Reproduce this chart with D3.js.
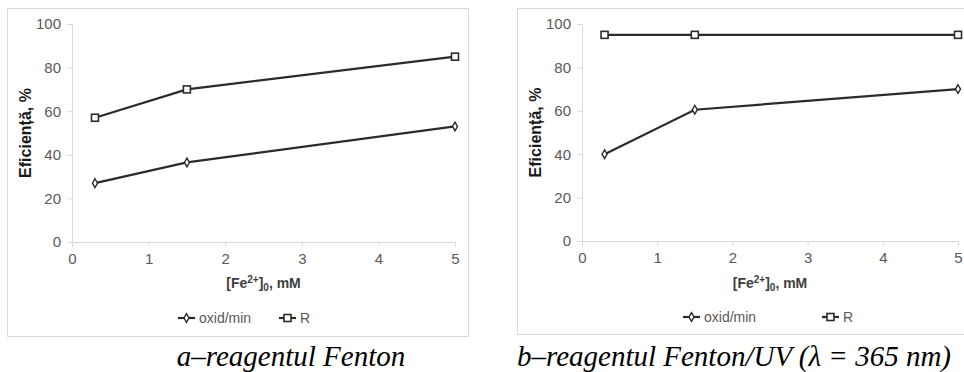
<!DOCTYPE html>
<html>
<head>
<meta charset="utf-8">
<script src="https://cdn.jsdelivr.net/npm/d3@7"></script>
<style>
  body { margin: 0; background: #fff; }
  svg { display: block; }
</style>
</head>
<body>
<script>
// data
var feConc = [0.3, 1.5, 5];
var oxidA = [27, 36.5, 53];
var rA = [57, 70, 85];
var oxidB = [40, 60.5, 70];
var rB = [95, 95, 95];
var xTicks = [0, 1, 2, 3, 4, 5];
var yTicks = [0, 20, 40, 60, 80, 100];
var captions = ["a\u2013reagentul Fenton", "b\u2013reagentul Fenton/UV (\u03bb = 365 nm)"];

var W = 964, H = 372;
var svg = d3.select("body").append("svg")
    .attr("width", W)
    .attr("height", H);

var lineCol = "#2b2b2b";
var textCol = "#595959";
var axisCol = "#d9d9d9";
var sans = "'Liberation Sans', Arial, sans-serif";
var serif = "'Liberation Serif', 'Times New Roman', serif";

// one panel
function drawPanel(box, plot, oxid, r, caption) {
    var g = svg.append("g");

    g.append("rect")
        .attr("x", box.x + 0.5).attr("y", box.y + 0.5)
        .attr("width", box.w).attr("height", box.h)
        .style("fill", "white")
        .style("stroke", axisCol);

    var x = d3.scaleLinear().domain([0, 5]).range([plot.x0, plot.x1]);
    var y = d3.scaleLinear().domain([0, 100]).range([plot.y0, plot.y1]);

    var xAxis = d3.axisBottom(x).tickValues(xTicks).tickSize(5).tickPadding(6).tickFormat(d3.format("d"));
    var yAxis = d3.axisLeft(y).tickValues(yTicks).tickSize(5).tickPadding(6).tickFormat(d3.format("d"));

    var gx = g.append("g")
        .attr("transform", "translate(0," + plot.y0 + ")")
        .call(xAxis);
    var gy = g.append("g")
        .attr("transform", "translate(" + plot.x0 + ",0)")
        .call(yAxis);

    [gx, gy].forEach(function (a) {
        a.select(".domain").style("stroke", axisCol);
        a.selectAll(".tick line").style("stroke", axisCol);
        a.selectAll("text")
            .style("fill", textCol)
            .style("font-family", sans)
            .style("font-size", "15px");
    });

    // axis titles
    g.append("text")
        .attr("transform", "translate(" + plot.titleX + "," + ((plot.y0 + plot.y1) / 2) + ") rotate(-90)")
        .attr("text-anchor", "middle")
        .attr("dy", "0.35em")
        .style("font-family", sans)
        .style("font-weight", "bold")
        .style("font-size", "16px")
        .style("fill", "#1a1a1a")
        .text("Eficiență, %");

    var xt = g.append("text")
        .attr("x", (plot.x0 + plot.x1) / 2)
        .attr("y", 288)
        .attr("text-anchor", "middle")
        .style("font-family", sans)
        .style("font-weight", "bold")
        .style("font-size", "14px")
        .style("fill", "#404040");
    xt.append("tspan").text("[Fe");
    xt.append("tspan").attr("dy", "-5").style("font-size", "10px").text("2+");
    xt.append("tspan").attr("dy", "5").text("]");
    xt.append("tspan").attr("dy", "3").style("font-size", "10px").text("0");
    xt.append("tspan").attr("dy", "-3").text(", mM");

    var line = d3.line()
        .x(function (d) { return x(d[0]); })
        .y(function (d) { return y(d[1]); });

    var series = [
        { vals: oxid, shape: "diamond" },
        { vals: r, shape: "square" }
    ];

    series.forEach(function (s) {
        var pts = feConc.map(function (c, i) { return [c, s.vals[i]]; });
        g.append("path")
            .datum(pts)
            .attr("d", line)
            .style("fill", "none")
            .style("stroke", lineCol)
            .style("stroke-width", 2.2);
        drawMarkers(g, pts.map(function (p) { return [x(p[0]), y(p[1])]; }), s.shape);
    });

    // legend
    var leg = [
        { x: plot.legX[0], label: "oxid/min", shape: "diamond" },
        { x: plot.legX[1], label: "R", shape: "square" }
    ];
    leg.forEach(function (l) {
        g.append("line")
            .attr("x1", l.x).attr("x2", l.x + 17)
            .attr("y1", plot.legY).attr("y2", plot.legY)
            .style("stroke", lineCol)
            .style("stroke-width", 2.2);
        drawMarkers(g, [[l.x + 8.5, plot.legY]], l.shape);
        g.append("text")
            .attr("x", l.x + 21)
            .attr("y", plot.legY)
            .attr("dy", "0.35em")
            .style("font-family", sans)
            .style("font-size", "14px")
            .style("fill", textCol)
            .text(l.label);
    });

    svg.append("text")
        .attr("x", caption.x)
        .attr("y", 366)
        .attr("text-anchor", "middle")
        .style("font-family", serif)
        .style("font-style", "italic")
        .style("font-size", "29px")
        .style("fill", "#000")
        .text(caption.text);
}

function drawMarkers(g, pts, shape) {
    if (shape === "square") {
        g.selectAll(null).data(pts).enter().append("rect")
            .attr("x", function (d) { return d[0] - 3.5; })
            .attr("y", function (d) { return d[1] - 3.5; })
            .attr("width", 7).attr("height", 7)
            .style("fill", "white")
            .style("stroke", lineCol)
            .style("stroke-width", 1.6);
    } else {
        g.selectAll(null).data(pts).enter().append("path")
            .attr("d", d3.symbol().type(d3.symbolDiamond).size(22))
            .attr("transform", function (d) { return "translate(" + d[0] + "," + d[1] + ")"; })
            .style("fill", "white")
            .style("stroke", lineCol)
            .style("stroke-width", 1.4);
    }
}

drawPanel(
    { x: 7, y: 8, w: 461, h: 328 },
    { x0: 72, x1: 455, y0: 242, y1: 24, titleX: 25, legX: [178, 279], legY: 318 },
    oxidA, rA,
    { x: 291, text: captions[0] }
);

drawPanel(
    { x: 517, y: 8, w: 460, h: 326 },
    { x0: 582, x1: 958, y0: 241, y1: 24, titleX: 535, legX: [683, 822], legY: 317 },
    oxidB, rB,
    { x: 734, text: captions[1] }
);
</script>
</body>
</html>
